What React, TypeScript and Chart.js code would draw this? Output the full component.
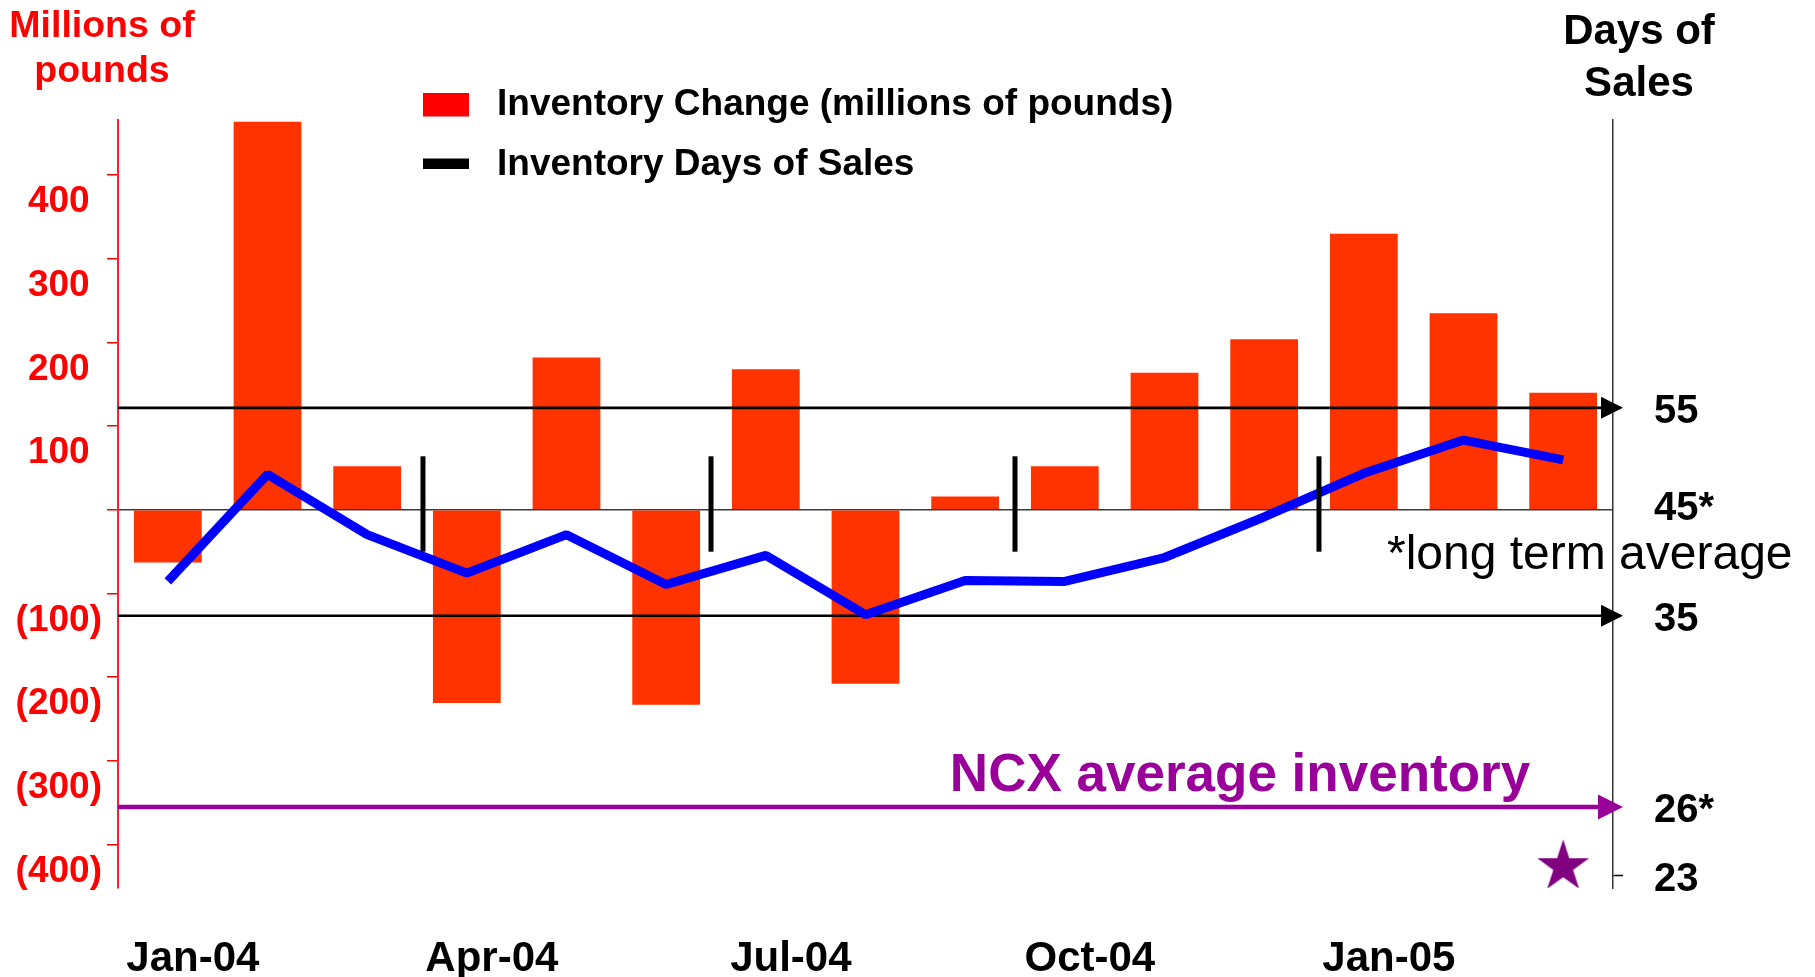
import React, { useEffect, useRef } from 'react';
import { Chart, registerables } from 'chart.js';

Chart.register(...registerables);

const months = ['Jan-04', 'Feb-04', 'Mar-04', 'Apr-04', 'May-04', 'Jun-04', 'Jul-04', 'Aug-04', 'Sep-04', 'Oct-04', 'Nov-04', 'Dec-04', 'Jan-05', 'Feb-05', 'Mar-05'];
const inventoryChange = [-63, 464, 52, -231, 182, -233, 168, -208, 16, 52, 164, 204, 330, 235, 140];
const daysOfSales = [38.3, 48.6, 42.8, 39.1, 42.8, 38.0, 40.8, 35.1, 38.4, 38.3, 40.6, 44.5, 48.7, 51.9, 50.0];

const leftTickValues = [-400, -300, -200, -100, 0, 100, 200, 300, 400];
const leftTickLabels = ['(400)', '(300)', '(200)', '(100)', '', '100', '200', '300', '400'];
const rightTickValues = [10, 16.6, 35, 45.7, 55];
const rightTickLabels = ['23', '26*', '35', '45*', '55'];

const referenceArrows = [55, 35];
const ncxAverageLevel = 16.6;
const ncxStarPoint = [null, null, null, null, null, null, null, null, null, null, null, null, null, null, 10.85];
const quarterSeparators = [2.56, 5.45, 8.5, 11.55];
const separatorSpan = [-50, 64];

const legendLabels = ['Inventory Change (millions of pounds)', 'Inventory Days of Sales'];
const leftTitle = ['Millions of', 'pounds'];
const rightTitle = ['Days of', 'Sales'];
const ncxLabel = 'NCX average inventory';
const footnote = '*long term average';

const FONT = "'Liberation Sans', Arial, Helvetica, sans-serif";

function makeStar(R: number, color: string) {
  const size = Math.ceil(R * 2 + 2);
  const c = document.createElement('canvas');
  c.width = size;
  c.height = size;
  const g = c.getContext('2d')!;
  const cx = size / 2;
  const cy = size / 2;
  const r = R * 0.382;
  g.beginPath();
  for (let i = 0; i < 10; i++) {
    const rad = i % 2 === 0 ? R : r;
    const a = -Math.PI / 2 + (i * Math.PI) / 5;
    const x = cx + rad * Math.cos(a);
    const y = cy + rad * Math.sin(a);
    if (i === 0) g.moveTo(x, y);
    else g.lineTo(x, y);
  }
  g.closePath();
  g.fillStyle = color;
  g.fill();
  return c;
}

function drawArrow(ctx: CanvasRenderingContext2D, x0: number, tip: number, y: number, color: string, lw: number, headLen: number, headHalf: number) {
  ctx.save();
  ctx.strokeStyle = color;
  ctx.fillStyle = color;
  ctx.lineWidth = lw;
  ctx.beginPath();
  ctx.moveTo(x0, y);
  ctx.lineTo(tip - headLen + 1, y);
  ctx.stroke();
  ctx.beginPath();
  ctx.moveTo(tip - headLen, y - headHalf);
  ctx.lineTo(tip, y);
  ctx.lineTo(tip - headLen, y + headHalf);
  ctx.closePath();
  ctx.fill();
  ctx.restore();
}

const annotationsPlugin = {
  id: 'slideAnnotations',
  afterDatasetDraw(chart: any, args: any) {
    if (args.index !== 0) return;
    const ctx = chart.ctx as CanvasRenderingContext2D;
    const { left, right } = chart.chartArea;
    const y1 = chart.scales.y1;
    const tip = right + 10;
    referenceArrows.forEach((v) => drawArrow(ctx, left, tip, y1.getPixelForValue(v), '#000000', 2.6, 22, 11));
    drawArrow(ctx, left, tip, y1.getPixelForValue(ncxAverageLevel), '#990099', 4.5, 25, 12.5);
  },
  afterDatasetsDraw(chart: any) {
    const ctx = chart.ctx as CanvasRenderingContext2D;
    const x = chart.scales.x;
    const y = chart.scales.y;
    ctx.save();
    ctx.strokeStyle = '#000000';
    ctx.lineWidth = 5;
    quarterSeparators.forEach((pos) => {
      const px = x.getPixelForValue(pos);
      ctx.beginPath();
      ctx.moveTo(px, y.getPixelForValue(separatorSpan[1]));
      ctx.lineTo(px, y.getPixelForValue(separatorSpan[0]));
      ctx.stroke();
    });
    ctx.restore();
  },
  afterDraw(chart: any) {
    const ctx = chart.ctx as CanvasRenderingContext2D;
    ctx.save();
    ctx.textBaseline = 'middle';
    ctx.textAlign = 'center';
    // left title
    ctx.fillStyle = '#FF0000';
    ctx.font = `bold 37.5px ${FONT}`;
    ctx.fillText(leftTitle[0], 102, 27);
    ctx.fillText(leftTitle[1], 102, 72);
    // right title
    ctx.fillStyle = '#000000';
    ctx.font = `bold 42px ${FONT}`;
    ctx.fillText(rightTitle[0], 1639, 32);
    ctx.fillText(rightTitle[1], 1639, 84);
    // legend
    ctx.fillStyle = '#FF0000';
    ctx.fillRect(423, 93, 46, 23.5);
    ctx.fillStyle = '#000000';
    ctx.fillRect(423, 158.5, 46, 10.5);
    ctx.textAlign = 'left';
    ctx.font = `bold 37px ${FONT}`;
    ctx.fillText(legendLabels[0], 497, 105);
    ctx.fillText(legendLabels[1], 497, 165);
    // NCX label
    ctx.fillStyle = '#990099';
    ctx.font = `bold 53px ${FONT}`;
    ctx.textAlign = 'center';
    ctx.fillText(ncxLabel, 1240, 776);
    // footnote
    ctx.fillStyle = '#000000';
    ctx.font = `48px ${FONT}`;
    ctx.textAlign = 'left';
    ctx.textBaseline = 'alphabetic';
    ctx.fillText(footnote, 1387, 569);
    ctx.restore();
  },
};

export default function App() {
  const ref = useRef<HTMLCanvasElement>(null);

  useEffect(() => {
    const canvas = ref.current;
    if (!canvas) return;
    const star = makeStar(27.2, '#800080');
    const chart = new Chart(canvas, {
      type: 'bar',
      data: {
        labels: months,
        datasets: [
          {
            type: 'bar',
            label: legendLabels[0],
            data: inventoryChange,
            backgroundColor: '#FF3300',
            borderWidth: 0,
            barPercentage: 0.68,
            categoryPercentage: 1,
            yAxisID: 'y',
            order: 2,
          } as any,
          {
            type: 'line',
            label: legendLabels[1],
            data: daysOfSales,
            borderColor: '#0000FF',
            borderWidth: 9,
            borderJoinStyle: 'bevel',
            pointRadius: 0,
            tension: 0,
            fill: false,
            yAxisID: 'y1',
            order: 1,
          } as any,
          {
            type: 'line',
            label: 'NCX',
            data: ncxStarPoint,
            showLine: false,
            pointStyle: star,
            pointRadius: 27,
            yAxisID: 'y1',
            order: 0,
          } as any,
        ],
      },
      options: {
        responsive: false,
        devicePixelRatio: 1,
        animation: false,
        layout: { padding: { top: 120, left: 0, right: 0, bottom: 0 } },
        plugins: {
          legend: { display: false },
          tooltip: { enabled: false },
        },
        scales: {
          x: {
            type: 'category',
            offset: true,
            grid: { display: false, drawTicks: false },
            border: { display: false },
            ticks: {
              autoSkip: false,
              maxRotation: 0,
              minRotation: 0,
              labelOffset: 25,
              padding: 46,
              color: '#000000',
              font: { family: FONT, size: 42, weight: 'bold' },
              callback: (_v: any, i: number) => (i % 3 === 0 ? months[i] : ''),
            },
            afterFit: (s: any) => {
              s.height = 89;
            },
          },
          y: {
            type: 'linear',
            position: 'left',
            min: -452,
            max: 466,
            afterBuildTicks: (s: any) => {
              s.ticks = leftTickValues.map((v) => ({ value: v }));
            },
            grid: {
              drawOnChartArea: true,
              color: (c: any) => (c.tick && c.tick.value === 0 ? '#3a3a3a' : 'rgba(0,0,0,0)'),
              lineWidth: 1.5,
              tickColor: '#FF0000',
              tickLength: 11,
              tickWidth: 1.5,
            },
            border: { display: true, color: '#FF2020', width: 2 },
            ticks: {
              autoSkip: false,
              crossAlign: 'center',
              padding: 5,
              labelOffset: 27,
              color: '#FF0000',
              font: { family: FONT, size: 37, weight: 'bold' },
              callback: (_v: any, i: number) => leftTickLabels[i],
            },
            afterFit: (s: any) => {
              s.width = 118;
            },
          },
          y1: {
            type: 'linear',
            position: 'right',
            min: 8.8,
            max: 82.7,
            afterBuildTicks: (s: any) => {
              s.ticks = rightTickValues.map((v) => ({ value: v }));
            },
            grid: {
              drawOnChartArea: false,
              tickLength: 10,
              tickWidth: 1.5,
              tickColor: (c: any) => (c.tick && c.tick.value === rightTickValues[0] ? '#000000' : 'rgba(0,0,0,0)'),
            },
            border: { display: true, color: '#333333', width: 1.5 },
            ticks: {
              autoSkip: false,
              padding: 31,
              labelOffset: 4,
              color: '#000000',
              font: { family: FONT, size: 40, weight: 'bold' },
              callback: (_v: any, i: number) => rightTickLabels[i],
            },
            afterFit: (s: any) => {
              s.width = 202;
            },
          },
        },
      } as any,
      plugins: [annotationsPlugin],
    });
    return () => chart.destroy();
  }, []);

  return (
    <div style={{ position: 'fixed', left: 0, top: 0, width: 1815, height: 977, background: '#ffffff' }}>
      <canvas ref={ref} width={1815} height={977} style={{ display: 'block', width: 1815, height: 977 }} />
    </div>
  );
}
